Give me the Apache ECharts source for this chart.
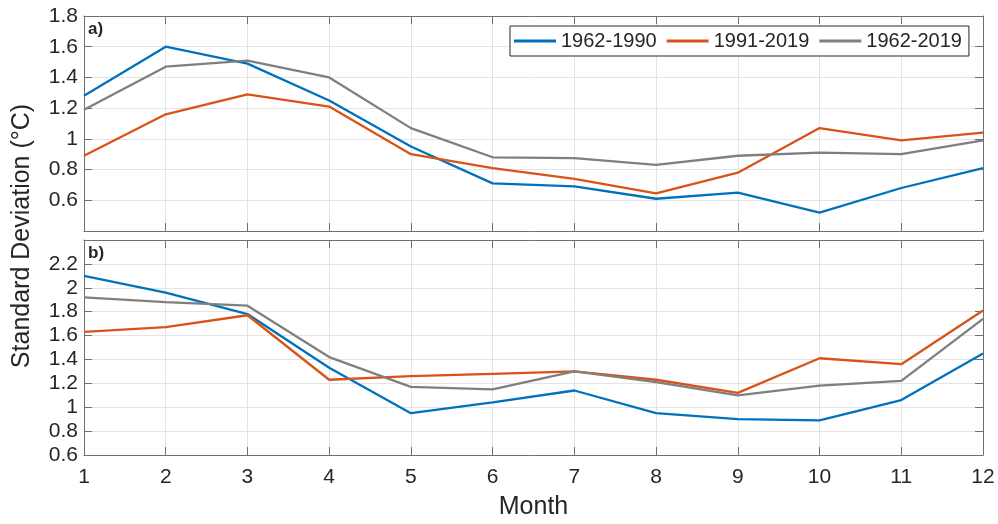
<!DOCTYPE html>
<html>
<head>
<meta charset="utf-8">
<script src="https://cdn.jsdelivr.net/npm/echarts@6/dist/echarts.min.js"></script>
<style>
html, body { margin: 0; padding: 0; background: #fff; }
#chart-container { width: 998px; height: 524px; }
</style>
</head>
<body>
<div id="chart-container"></div>
<script>
// month index, shared by both panels
const months = [1, 2, 3, 4, 5, 6, 7, 8, 9, 10, 11, 12]
const seriesNames = ['1962-1990', '1991-2019', '1962-2019']
const seriesColors = ['#0072BD', '#D95319', '#7F7F7F']

// panel a)
const a_1962_1990 = [1.28, 1.60, 1.49, 1.25, 0.95, 0.71, 0.69, 0.61, 0.65, 0.52, 0.68, 0.81]
const a_1991_2019 = [0.89, 1.16, 1.29, 1.21, 0.90, 0.81, 0.74, 0.645, 0.78, 1.07, 0.99, 1.04]
const a_1962_2019 = [1.19, 1.47, 1.51, 1.40, 1.07, 0.88, 0.875, 0.83, 0.89, 0.91, 0.90, 0.99]

// panel b)
const b_1962_1990 = [2.10, 1.96, 1.78, 1.33, 0.95, 1.04, 1.14, 0.95, 0.90, 0.89, 1.06, 1.45]
const b_1991_2019 = [1.63, 1.67, 1.77, 1.23, 1.26, 1.28, 1.30, 1.23, 1.12, 1.41, 1.36, 1.81]
const b_1962_2019 = [1.92, 1.88, 1.85, 1.42, 1.17, 1.15, 1.30, 1.21, 1.10, 1.18, 1.22, 1.74]

// y ranges (the end label of each is not drawn, like the original)
const a_yMin = 0.4, a_yMax = 1.8
const b_yMin = 0.6, b_yMax = 2.4
const yStep = 0.2

const FONT = 'Liberation Sans, Arial, sans-serif'
const boxColor = '#6f6f6f'
const gridColor = '#e4e4e4'
const textColor = '#262626'

const pair = (vals) => months.map((m, i) => [m, vals[i]])

function xAx(gridIndex, position, showLabels, showSplit) {
  return {
    type: 'value',
    gridIndex,
    position,
    min: 1,
    max: 12,
    interval: 1,
    axisLine: { show: true, onZero: false, lineStyle: { color: boxColor, width: 1 } },
    axisTick: { show: true, inside: true, length: 8, lineStyle: { color: boxColor } },
    axisLabel: { show: showLabels, margin: 12, color: textColor, fontSize: 21, fontFamily: FONT },
    splitLine: { show: showSplit, lineStyle: { color: gridColor, width: 1 } }
  }
}

function yAx(gridIndex, position, min, max, primary) {
  return {
    type: 'value',
    gridIndex,
    position,
    min,
    max,
    interval: yStep,
    axisLine: { show: true, lineStyle: { color: boxColor, width: 1 } },
    axisTick: { show: true, inside: true, length: 8, lineStyle: { color: boxColor } },
    axisLabel: {
      show: primary,
      margin: 6,
      color: textColor,
      fontSize: 21,
      fontFamily: FONT,
      formatter: (v) => {
        if (Math.abs(v - min) < 1e-6 && gridIndex === 0) return ''
        if (Math.abs(v - max) < 1e-6 && gridIndex === 1) return ''
        return String(+v.toFixed(1))
      }
    },
    splitLine: { show: primary, lineStyle: { color: gridColor, width: 1 } }
  }
}

function lineSeries(name, color, data, xi, yi) {
  return {
    type: 'line',
    name,
    data: pair(data),
    xAxisIndex: xi,
    yAxisIndex: yi,
    symbol: 'none',
    lineStyle: { color, width: 2.3 },
    itemStyle: { color },
    animation: false
  }
}

const chart = echarts.init(document.getElementById('chart-container'))
const option = {
  backgroundColor: '#fff',
  animation: false,
  grid: [
    { left: 84, top: 16, width: 899, height: 215 },
    { left: 84, top: 240, width: 899, height: 215 }
  ],
  xAxis: [
    xAx(0, 'bottom', false, true),
    xAx(0, 'top', false, false),
    Object.assign(xAx(1, 'bottom', true, true), {
      name: 'Month',
      nameLocation: 'middle',
      nameGap: 40,
      nameTextStyle: { color: textColor, fontSize: 25, fontFamily: FONT }
    }),
    xAx(1, 'top', false, false)
  ],
  yAxis: [
    yAx(0, 'left', a_yMin, a_yMax, true),
    yAx(0, 'right', a_yMin, a_yMax, false),
    yAx(1, 'left', b_yMin, b_yMax, true),
    yAx(1, 'right', b_yMin, b_yMax, false)
  ],
  legend: {
    data: seriesNames.map((name) => ({ name, icon: 'rect' })),
    left: 510,
    top: 26,
    orient: 'horizontal',
    itemWidth: 42,
    itemHeight: 3,
    itemGap: 10,
    padding: [5, 7, 5, 4],
    backgroundColor: '#fff',
    borderColor: '#262626',
    borderWidth: 1,
    borderRadius: 0,
    textStyle: { color: textColor, fontSize: 20, fontFamily: FONT, lineHeight: 20 }
  },
  graphic: [
    {
      type: 'text',
      left: 88,
      top: 21,
      style: { text: 'a)', font: 'bold 17px ' + FONT, fill: textColor }
    },
    {
      type: 'text',
      left: 88,
      top: 245,
      style: { text: 'b)', font: 'bold 17px ' + FONT, fill: textColor }
    },
    {
      type: 'text',
      x: 22,
      y: 236,
      rotation: Math.PI / 2,
      style: {
        text: 'Standard Deviation (°C)',
        font: '25px ' + FONT,
        fill: textColor,
        align: 'center',
        verticalAlign: 'middle'
      }
    }
  ],
  series: [
    lineSeries(seriesNames[0], seriesColors[0], a_1962_1990, 0, 0),
    lineSeries(seriesNames[1], seriesColors[1], a_1991_2019, 0, 0),
    lineSeries(seriesNames[2], seriesColors[2], a_1962_2019, 0, 0),
    lineSeries(seriesNames[0], seriesColors[0], b_1962_1990, 2, 2),
    lineSeries(seriesNames[1], seriesColors[1], b_1991_2019, 2, 2),
    lineSeries(seriesNames[2], seriesColors[2], b_1962_2019, 2, 2)
  ]
}
chart.setOption(option)
</script>
</body>
</html>
